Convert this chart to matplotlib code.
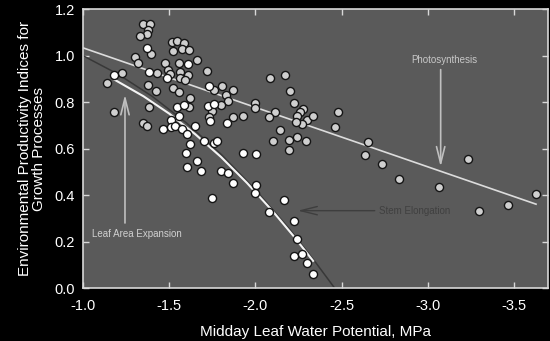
import numpy as np
import matplotlib
matplotlib.use("Agg")
import matplotlib.pyplot as plt

plt.rcParams["font.family"] = ["Liberation Sans", "DejaVu Sans"]
plt.rcParams["axes.unicode_minus"] = False

# Photosynthesis index points (light gray markers)
photo_x = [-1.348, -1.387, -1.377, -1.371, -1.329, -1.391, -1.300, -1.316, -1.226, -1.139,
           -1.429, -1.377, -1.420, -1.513, -1.542, -1.586, -1.522, -1.571, -1.615, -1.658,
           -1.476, -1.557, -1.716, -1.493, -1.503, -1.561, -1.609, -1.561, -1.590, -1.760,
           -1.803, -1.828, -1.867, -1.842, -1.619, -1.519, -1.557, -1.613, -1.180, -1.381,
           -1.348, -1.368, -1.799, -1.745, -1.730, -1.871, -1.929, -2.084, -2.171, -2.200,
           -1.997, -1.997, -2.113, -2.080, -2.225, -2.277, -2.258, -2.239, -2.297, -2.335,
           -2.273, -2.234, -2.142, -2.103, -2.194, -2.239, -2.293, -2.196, -2.480, -2.461,
           -2.654, -2.639, -2.738, -2.834, -3.066, -3.237, -3.298, -3.467, -3.631]
photo_y = [1.139, 1.139, 1.113, 1.096, 1.084, 1.009, 0.994, 0.970, 0.927, 0.884,
           0.927, 0.876, 0.850, 1.060, 1.066, 1.056, 1.020, 1.030, 1.027, 0.981,
           0.970, 0.970, 0.934, 0.941, 0.924, 0.929, 0.919, 0.905, 0.898, 0.855,
           0.869, 0.833, 0.852, 0.807, 0.819, 0.862, 0.843, 0.780, 0.757, 0.780,
           0.711, 0.697, 0.790, 0.764, 0.735, 0.735, 0.740, 0.905, 0.916, 0.847,
           0.797, 0.776, 0.757, 0.735, 0.797, 0.772, 0.757, 0.740, 0.726, 0.740,
           0.707, 0.714, 0.682, 0.632, 0.640, 0.653, 0.632, 0.596, 0.757, 0.694,
           0.631, 0.573, 0.533, 0.470, 0.438, 0.556, 0.334, 0.359, 0.406]

# Growth index points (white markers)
growth_x = [-1.368, -1.180, -1.383, -1.609, -1.488, -1.731, -1.725, -1.760, -1.735, -1.832,
            -1.546, -1.584, -1.507, -1.557, -1.461, -1.507, -1.532, -1.575, -1.600, -1.648,
            -1.619, -1.596, -1.701, -1.759, -1.778, -1.662, -1.604, -1.683, -1.799, -1.842,
            -1.871, -1.929, -2.002, -2.001, -1.997, -1.745, -2.167, -2.080, -2.225, -2.244,
            -2.225, -2.268, -2.297, -2.335]
growth_y = [1.033, 0.916, 0.932, 0.967, 0.905, 0.869, 0.786, 0.793, 0.721, 0.711,
            0.780, 0.790, 0.723, 0.743, 0.685, 0.692, 0.700, 0.685, 0.664, 0.697,
            0.621, 0.584, 0.635, 0.625, 0.632, 0.549, 0.520, 0.503, 0.503, 0.498,
            0.455, 0.584, 0.578, 0.445, 0.412, 0.388, 0.378, 0.330, 0.290, 0.211,
            0.139, 0.147, 0.108, 0.060]

# Fitted response lines
photo_line_x = [-1.0, -3.63]
photo_line_y = [1.034, 0.362]

leaf_line_x = [-1.18, -1.35, -1.50, -1.65, -1.80, -1.95, -2.10, -2.22, -2.335]
leaf_line_y = [0.898, 0.826, 0.751, 0.663, 0.565, 0.454, 0.332, 0.226, 0.118]

stem_line_x = [-1.0, -1.2, -1.4, -1.6, -1.8, -2.0, -2.2, -2.35, -2.461]
stem_line_y = [1.0, 0.922, 0.826, 0.711, 0.577, 0.424, 0.253, 0.111, 0.0]

x_ticks = [-1.0, -1.5, -2.0, -2.5, -3.0, -3.5]
y_ticks = [0.0, 0.2, 0.4, 0.6, 0.8, 1.0, 1.2]

fig = plt.figure(figsize=(5.5, 3.41), dpi=100, facecolor="black")
ax = fig.add_axes([0.1515, 0.1545, 0.845, 0.818])
ax.set_facecolor("#5a5a5a")

ax.plot(stem_line_x, stem_line_y, color="#383838", lw=1.1, zorder=2)
ax.plot(photo_line_x, photo_line_y, color="#dcdcdc", lw=1.2, zorder=2)
ax.plot(leaf_line_x, leaf_line_y, color="#f4f4f4", lw=1.5, zorder=2)

ax.scatter(photo_x, photo_y, s=34, facecolor="#cfcfcf", edgecolor="#151515",
           linewidth=1.0, zorder=3)
ax.scatter(growth_x, growth_y, s=34, facecolor="#ffffff", edgecolor="#151515",
           linewidth=1.0, zorder=4)

# annotations with thin open arrow heads
head = "->,head_length=1.2,head_width=0.3"
ax.annotate("", xy=(-3.076, 0.523), xytext=(-3.076, 0.941),
            arrowprops=dict(arrowstyle=head, color="#c0c0c0", lw=1.2,
                            shrinkA=0, shrinkB=0))
ax.text(-3.099, 0.981, "Photosynthesis", color="#c8c8c8", fontsize=7,
        ha="center", va="center")
ax.annotate("", xy=(-1.242, 0.833), xytext=(-1.242, 0.281),
            arrowprops=dict(arrowstyle=head, color="#c0c0c0", lw=1.2,
                            shrinkA=0, shrinkB=0))
ax.text(-1.050, 0.233, "Leaf Area Expansion", color="#d0d0d0", fontsize=7,
        ha="left", va="center")
ax.annotate("", xy=(-2.246, 0.334), xytext=(-2.693, 0.334),
            arrowprops=dict(arrowstyle=head, color="#3e3e3e", lw=1.0,
                            shrinkA=0, shrinkB=0))
ax.text(-2.716, 0.334, "Stem Elongation", color="#404040", fontsize=7,
        ha="left", va="center")

ax.set_xlim(-1.0, -3.7)
ax.set_ylim(0.0, 1.2)
ax.set_xticks(x_ticks)
ax.set_xticklabels([f"{v:.1f}" for v in x_ticks])
ax.set_yticks(y_ticks)
ax.set_yticklabels([f"{v:.1f}" for v in y_ticks])
ax.tick_params(direction="in", length=4, width=1, color="#d8d8d8",
               labelcolor="white", labelsize=10.5, top=True, right=True,
               labeltop=False, labelright=False)
ax.tick_params(axis="x", pad=8)
ax.tick_params(axis="y", pad=6)
for s in ax.spines.values():
    s.set_color("#d8d8d8")
    s.set_linewidth(1.2)

ax.set_xlabel("Midday Leaf Water Potential, MPa", color="white", fontsize=11,
              labelpad=8)
ax.set_ylabel("Environmental Productivity Indices for\nGrowth Processes",
              color="white", fontsize=11, linespacing=1.0, labelpad=6)

fig.savefig("out.png", dpi=100, facecolor="black")
